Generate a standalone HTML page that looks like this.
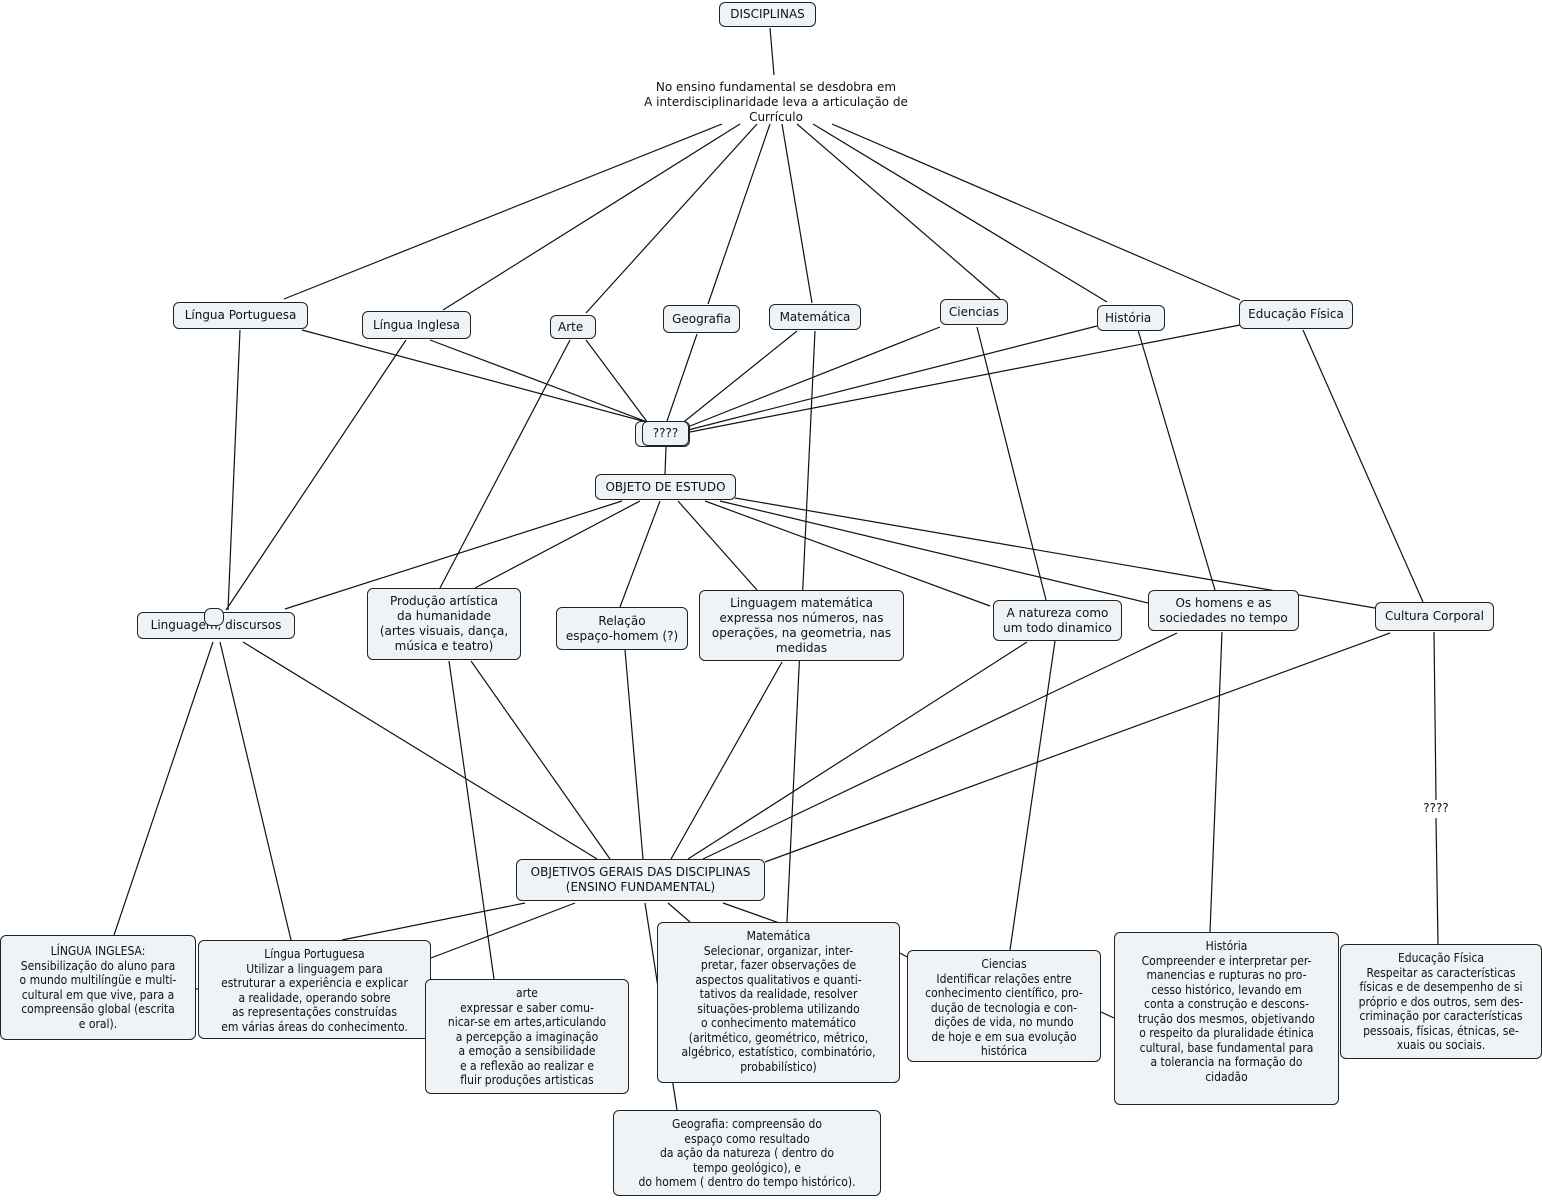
<!DOCTYPE html>
<html><head><meta charset="utf-8"><style>
body{margin:0;width:1542px;height:1200px;background:#fff;position:relative;overflow:hidden;font-family:"DejaVu Sans","Liberation Sans",sans-serif;font-size:12px;color:#111}
.b{position:absolute;box-sizing:border-box;background:#edf3f6;border:1px solid #222;border-radius:6px;text-align:center;display:flex;align-items:center;justify-content:center;line-height:15px;white-space:nowrap}
.c{font-stretch:condensed;line-height:14.5px;align-items:flex-start;padding-top:6px}
.t{position:absolute;text-align:center;line-height:15px;white-space:nowrap}
svg{position:absolute;left:0;top:0}
</style></head><body>
<svg width="1542" height="1200"><g stroke="#111" stroke-width="1.2" fill="none">
<line x1="770" y1="28" x2="774" y2="75"/>
<line x1="722" y1="124" x2="284" y2="299"/>
<line x1="740" y1="124" x2="443" y2="310"/>
<line x1="757" y1="124" x2="586" y2="313"/>
<line x1="770" y1="124" x2="708" y2="304"/>
<line x1="782" y1="124" x2="812" y2="303"/>
<line x1="797" y1="124" x2="1000" y2="299"/>
<line x1="813" y1="124" x2="1107" y2="302"/>
<line x1="832" y1="124" x2="1240" y2="300"/>
<line x1="302" y1="330" x2="650" y2="423"/>
<line x1="430" y1="340" x2="650" y2="423"/>
<line x1="586" y1="340" x2="648" y2="423"/>
<line x1="697" y1="334" x2="667" y2="421"/>
<line x1="797" y1="331" x2="680" y2="425"/>
<line x1="940" y1="327" x2="685" y2="428"/>
<line x1="1097" y1="326" x2="688" y2="430"/>
<line x1="1240" y1="325" x2="690" y2="432"/>
<line x1="666" y1="447" x2="665" y2="474"/>
<line x1="240" y1="330" x2="228" y2="610"/>
<line x1="406" y1="340" x2="226" y2="610"/>
<line x1="570" y1="340" x2="440" y2="588"/>
<line x1="815" y1="331" x2="787" y2="922"/>
<line x1="977" y1="327" x2="1046" y2="600"/>
<line x1="1138" y1="330" x2="1215" y2="590"/>
<line x1="1303" y1="330" x2="1423" y2="602"/>
<line x1="622" y1="501" x2="285" y2="609"/>
<line x1="640" y1="501" x2="475" y2="588"/>
<line x1="660" y1="501" x2="620" y2="607"/>
<line x1="678" y1="501" x2="757" y2="590"/>
<line x1="705" y1="501" x2="990" y2="606"/>
<line x1="720" y1="501" x2="1148" y2="603"/>
<line x1="735" y1="498" x2="1375" y2="608"/>
<line x1="243" y1="642" x2="597" y2="859"/>
<line x1="471" y1="661" x2="610" y2="859"/>
<line x1="625" y1="650" x2="643" y2="859"/>
<line x1="782" y1="662" x2="671" y2="859"/>
<line x1="1027" y1="642" x2="688" y2="859"/>
<line x1="1177" y1="633" x2="703" y2="859"/>
<line x1="1390" y1="633" x2="765" y2="862"/>
<line x1="213" y1="642" x2="114" y2="935"/>
<line x1="220" y1="642" x2="291" y2="940"/>
<line x1="449" y1="661" x2="494" y2="979"/>
<line x1="1055" y1="641" x2="1010" y2="950"/>
<line x1="1222" y1="632" x2="1210" y2="932"/>
<line x1="1434" y1="632" x2="1436" y2="800"/>
<line x1="1436" y1="818" x2="1438" y2="944"/>
<line x1="525" y1="903" x2="342" y2="940"/>
<line x1="575" y1="903" x2="431" y2="958"/>
<line x1="645" y1="903" x2="677" y2="1110"/>
<line x1="668" y1="903" x2="690" y2="922"/>
<line x1="723" y1="903" x2="785" y2="925"/>
<line x1="900" y1="953" x2="907" y2="957"/>
<line x1="1101" y1="1012" x2="1114" y2="1018"/>
<line x1="196" y1="989" x2="198" y2="989"/>
</g></svg>
<div class="b" style="left:719px;top:2px;width:97px;height:25px">DISCIPLINAS</div>
<div class="t" style="left:576px;top:80px;width:400px">No ensino fundamental se desdobra em<br>A interdisciplinaridade leva a articulação de<br>Currículo</div>
<div class="b" style="left:173px;top:302px;width:135px;height:27px">Língua Portuguesa</div>
<div class="b" style="left:362px;top:311px;width:109px;height:28px">Língua Inglesa</div>
<div class="b" style="left:550px;top:315px;width:46px;height:24px;justify-content:flex-start;padding-left:7px">Arte</div>
<div class="b" style="left:663px;top:305px;width:77px;height:28px">Geografia</div>
<div class="b" style="left:769px;top:304px;width:92px;height:26px">Matemática</div>
<div class="b" style="left:940px;top:299px;width:68px;height:26px">Ciencias</div>
<div class="b" style="left:1097px;top:305px;width:68px;height:26px;justify-content:flex-start;padding-left:7px">História</div>
<div class="b" style="left:1239px;top:300px;width:114px;height:29px">Educação Física</div>
<div class="b" style="left:635px;top:421px;width:55px;height:26px"></div>
<div class="b" style="left:642px;top:421px;width:47px;height:25px">????</div>
<div class="b" style="left:595px;top:474px;width:141px;height:26px">OBJETO DE ESTUDO</div>
<div class="b" style="left:137px;top:612px;width:158px;height:27px">Linguagem, discursos</div>
<div class="b" style="left:204px;top:608px;width:20px;height:18px;border-radius:7px"></div>
<div class="b" style="left:367px;top:588px;width:154px;height:72px">Produção artística<br>da humanidade<br>(artes visuais, dança,<br>música e teatro)</div>
<div class="b" style="left:556px;top:607px;width:132px;height:43px">Relação<br>espaço-homem (?)</div>
<div class="b" style="left:699px;top:590px;width:205px;height:71px">Linguagem matemática<br>expressa nos números, nas<br>operações, na geometria, nas<br>medidas</div>
<div class="b" style="left:993px;top:600px;width:129px;height:41px">A natureza como<br>um todo dinamico</div>
<div class="b" style="left:1148px;top:590px;width:151px;height:41px">Os homens e as<br>sociedades no tempo</div>
<div class="b" style="left:1375px;top:602px;width:119px;height:29px">Cultura Corporal</div>
<div class="t" style="left:1410px;top:801px;width:52px;background:#fff">????</div>
<div class="b" style="left:516px;top:859px;width:249px;height:42px">OBJETIVOS GERAIS DAS DISCIPLINAS<br>(ENSINO FUNDAMENTAL)</div>
<div class="b c" style="left:0px;top:935px;width:196px;height:105px;padding-top:8px">LÍNGUA INGLESA:<br>Sensibilização do aluno para<br>o mundo multilíngüe e multi-<br>cultural em que vive, para a<br>compreensão global (escrita<br>e oral).</div>
<div class="b c" style="left:198px;top:940px;width:233px;height:99px">Língua Portuguesa<br>Utilizar a linguagem para<br>estruturar a experiência e explicar<br>a realidade, operando sobre<br>as representações construídas<br>em várias áreas do conhecimento.</div>
<div class="b c" style="left:425px;top:979px;width:204px;height:115px">arte<br>expressar e saber comu-<br>nicar-se em artes,articulando<br>a percepção a imaginação<br>a emoção a sensibilidade<br>e a reflexão ao realizar e<br>fluir produções artisticas</div>
<div class="b c" style="left:657px;top:922px;width:243px;height:161px">Matemática<br>Selecionar, organizar, inter-<br>pretar, fazer observações de<br>aspectos qualitativos e quanti-<br>tativos da realidade, resolver<br>situações-problema utilizando<br>o conhecimento matemático<br>(aritmético, geométrico, métrico,<br>algébrico, estatístico, combinatório,<br>probabilístico)</div>
<div class="b c" style="left:613px;top:1110px;width:268px;height:86px">Geografia: compreensão do<br>espaço como resultado<br>da ação da natureza ( dentro do<br>tempo geológico), e<br>do homem ( dentro do tempo histórico).</div>
<div class="b c" style="left:907px;top:950px;width:194px;height:112px">Ciencias<br>Identificar relações entre<br>conhecimento científico, pro-<br>dução de tecnologia e con-<br>dições de vida, no mundo<br>de hoje e em sua evolução<br>histórica</div>
<div class="b c" style="left:1114px;top:932px;width:225px;height:173px">História<br>Compreender e interpretar per-<br>manencias e rupturas no pro-<br>cesso histórico, levando em<br>conta a construção e descons-<br>trução dos mesmos, objetivando<br>o respeito da pluralidade étinica<br>cultural, base fundamental para<br>a tolerancia na formação do<br>cidadão</div>
<div class="b c" style="left:1340px;top:944px;width:202px;height:115px">Educação Física<br>Respeitar as características<br>físicas e de desempenho de si<br>próprio e dos outros, sem des-<br>criminação por características<br>pessoais, físicas, étnicas, se-<br>xuais ou sociais.</div>
</body></html>
